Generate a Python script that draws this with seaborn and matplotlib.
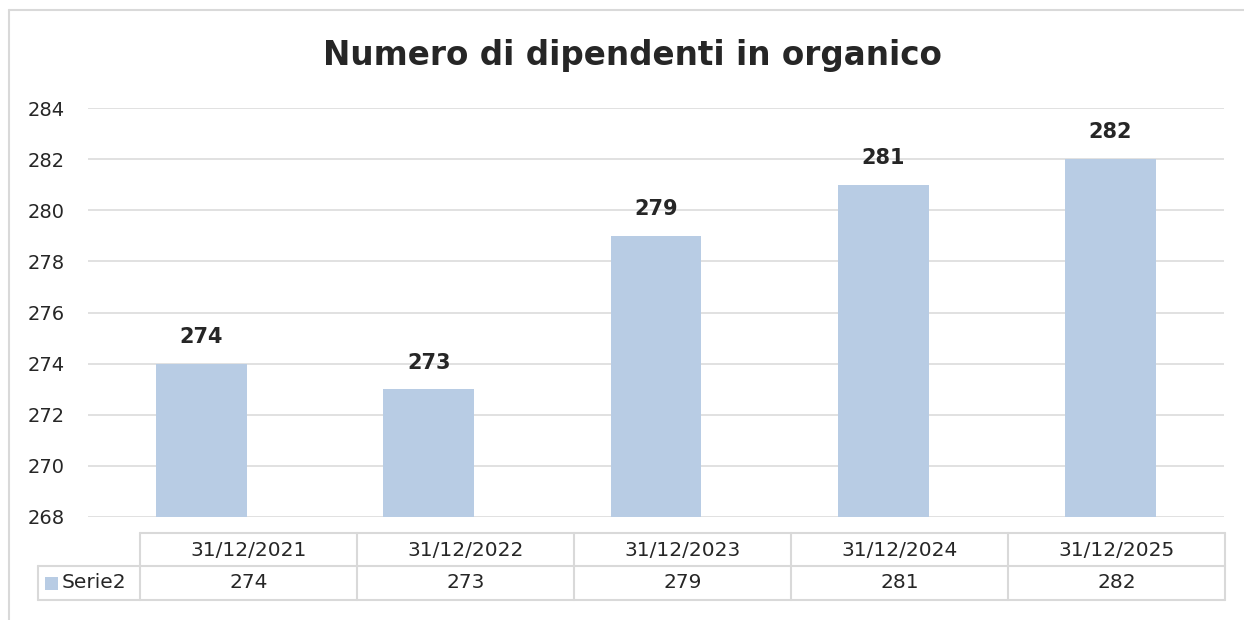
import matplotlib
matplotlib.use('Agg')
import matplotlib.pyplot as plt
import seaborn as sns
import pandas as pd
from matplotlib.lines import Line2D
from matplotlib.patches import Rectangle

# data
dates = ['31/12/2021', '31/12/2022', '31/12/2023', '31/12/2024', '31/12/2025']
dipendenti = [274, 273, 279, 281, 282]
serie_name = 'Serie2'
title = 'Numero di dipendenti in organico'

bar_color = '#b8cce4'
grid_color = '#d9d9d9'
text_color = '#262626'

df = pd.DataFrame({'data': dates, 'valore': dipendenti})

sns.set_theme(style='white')
plt.rcParams['font.family'] = ['DejaVu Sans']

W, H = 1244, 620
fig = plt.figure(figsize=(W / 100, H / 100), dpi=100)
fig.patch.set_facecolor('white')

# axes in pixel coordinates: x 88..1224, y 108..517
ax = fig.add_axes([88 / W, 1 - 517 / H, (1224 - 88) / W, (517 - 108) / H])
sns.barplot(data=df, x='data', y='valore', color=bar_color, width=0.4,
            saturation=1, linewidth=0, ax=ax, zorder=3)
ax.set_ylim(268, 284)
ax.set_xlim(-0.5, len(dates) - 0.5)
ax.set_yticks(range(268, 285, 2))
ax.yaxis.grid(True, color=grid_color, linewidth=1.1, zorder=0)
ax.set_axisbelow(True)
ax.set_xticks([])
ax.set_xlabel('')
ax.set_ylabel('')
for s in ax.spines.values():
    s.set_visible(False)
ax.tick_params(axis='y', length=0, pad=17, labelsize=14, labelcolor=text_color)

for i, v in enumerate(dipendenti):
    ax.annotate(str(v), (i, v), xytext=(0, 12), textcoords='offset points',
                ha='center', va='bottom', fontsize=15, fontweight='bold',
                color=text_color)

fig.text(632 / W, 1 - 55 / H, title, ha='center', va='center',
         fontsize=23.5, fontweight='bold', color=text_color)

# data table below the chart
def px(x, y):
    return x / W, 1 - y / H

def hline(x0, x1, y):
    (a, b), (c, d) = px(x0, y), px(x1, y)
    fig.add_artist(Line2D([a, c], [b, d], color=grid_color, lw=1.5))

def vline(x, y0, y1):
    (a, b), (c, d) = px(x, y0), px(x, y1)
    fig.add_artist(Line2D([a, c], [b, d], color=grid_color, lw=1.5))

col_left = 140
col_w = (1225 - 140) / len(dates)
hline(140, 1225, 533)
hline(38, 1225, 566)
hline(38, 1225, 600)
vline(38, 566, 600)
vline(140, 533, 600)
for i in range(1, len(dates) + 1):
    vline(col_left + i * col_w, 533, 600)

for i, (d, v) in enumerate(zip(dates, dipendenti)):
    cx = col_left + (i + 0.5) * col_w
    fig.text(*px(cx, 550), d, ha='center', va='center', fontsize=14.5, color=text_color)
    fig.text(*px(cx, 583), str(v), ha='center', va='center', fontsize=14.5, color=text_color)

sx, sy = px(45, 590)
fig.add_artist(Rectangle((sx, sy), 13 / W, 13 / H, transform=fig.transFigure,
                         facecolor=bar_color, edgecolor='none'))
fig.text(*px(62, 583), serie_name, ha='left', va='center', fontsize=14.5, color=text_color)

# chart frame (top and left edges)
hline(9, W, 10)
vline(9, 10, H)

fig.savefig('out.png', dpi=100, facecolor='white')
